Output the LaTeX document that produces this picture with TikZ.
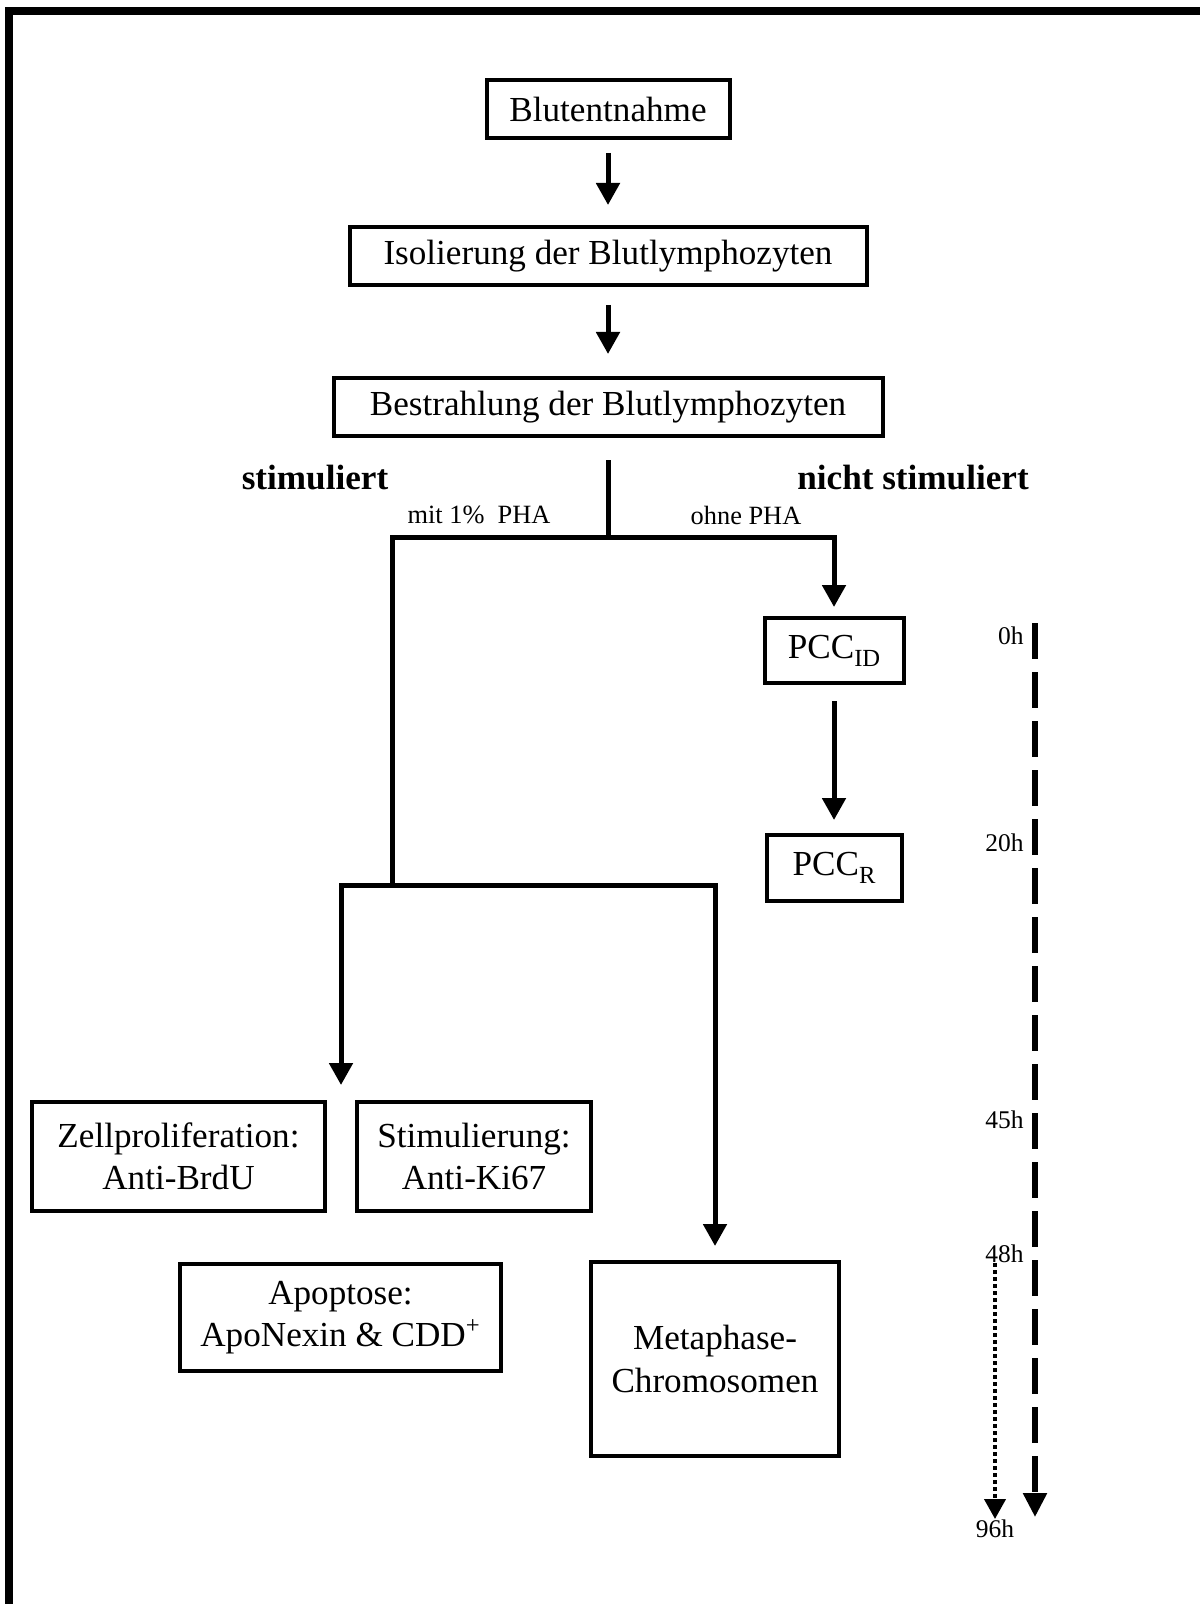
\documentclass[tikz,border=0pt]{standalone}
\usepackage{fontspec}
\setmainfont{Liberation Serif}
\usetikzlibrary{positioning,arrows.meta,calc}
\newcommand{\boxfont}{\fontsize{20}{24}\selectfont}
\newcommand{\condfont}{\fontsize{15}{18}\selectfont}
\newcommand{\hourfont}{\fontsize{14.5}{17}\selectfont}
\newcommand{\lowsub}[1]{\raisebox{-4.5pt}{\fontsize{14}{14}\selectfont #1}}
\tikzset{
  stepbox/.style={draw, line width=0.08cm, font=\boxfont, align=center, inner sep=0pt},
  conn/.style={line width=0.1cm},
  arr/.style={conn, -{Triangle[length=0.44cm,width=0.46cm]}},
  branch/.style={font=\boxfont\bfseries},
  cond/.style={font=\condfont},
  hour/.style={font=\hourfont, anchor=east, inner sep=0pt},
  timeline/.style={line width=0.11cm, dash pattern=on 0.71cm off 0.27cm,
                   -{Triangle[length=0.48cm,width=0.46cm]}},
  window/.style={line width=0.08cm, dash pattern=on 0.08cm off 0.06cm,
                 -{Triangle[length=0.4cm,width=0.42cm]}},
}

\begin{document}
\begin{tikzpicture}
\useasboundingbox (0,0) rectangle (24,-32.08);
% frame (top and left only)
\draw[line width=0.16cm] (24.2,-0.22) -- (0.18,-0.22) -- (0.18,-32.3);

% main chain
\node[stepbox, minimum width=4.86cm, minimum height=1.16cm] (blut) at (12.16,-2.18) {Blutentnahme};
\node[stepbox, minimum width=10.34cm, minimum height=1.16cm, below=1.7cm of blut] (iso) {Isolierung der Blutlymphozyten};
\node[stepbox, minimum width=10.98cm, minimum height=1.16cm, below=1.78cm of iso] (bestr) {Bestrahlung der Blutlymphozyten};
\draw[arr, shorten <=0.26cm, shorten >=0.4cm] (blut) -- (iso);
\draw[arr, shorten <=0.36cm, shorten >=0.44cm] (iso) -- (bestr);

% split
\coordinate (split) at (12.16,-10.74);
\coordinate (split2) at (7.84,-17.70);
\node[branch] (stim-lbl) at (6.30,-9.56) {stimuliert};
\node[branch] (nstim-lbl) at (18.26,-9.56) {nicht stimuliert};
\node[cond] (pha) at (9.58,-10.30) {mit 1\%\ \ PHA};
\node[cond] (nopha) at (14.92,-10.30) {ohne PHA};

% not stimulated
\node[stepbox, minimum width=2.78cm, minimum height=1.3cm] (pccid) at (16.68,-13.01) {PCC\lowsub{ID}};
\node[stepbox, minimum width=2.7cm, minimum height=1.32cm, below=2.96cm of pccid] (pccr) {PCC\lowsub{R}};
\draw[conn, shorten <=0.44cm] (bestr) -- (split);
\draw[arr, shorten >=0.18cm] (split) -| (pccid);
\draw[arr, shorten <=0.32cm, shorten >=0.26cm] (pccid) -- (pccr);

% stimulated
\node[stepbox, minimum width=5.86cm, minimum height=2.18cm] (zell) at (3.57,-23.13) {Zellproliferation:\\Anti-BrdU};
\node[stepbox, minimum width=4.68cm, minimum height=2.18cm, right=0.56cm of zell] (stim) {Stimulierung:\\Anti-Ki67};
\node[stepbox, minimum width=6.42cm, minimum height=2.14cm] (apop) at (6.81,-26.35) {Apoptose:\\ApoNexin \& CDD\textsuperscript{+}};
\node[stepbox, minimum width=4.96cm, minimum height=3.88cm] (meta) at (14.3,-27.18) {Metaphase-\\Chromosomen};
\coordinate (gap) at ($(zell.north east)!0.5!(stim.north west)$);
\draw[conn] (split) -| (split2);
\draw[arr, shorten >=0.3cm] (split2) -| (gap);
\draw[arr, shorten >=0.28cm] (split2) -| (meta);

% time axis
\node[hour] (h0) at (20.48,-12.72) {0h};
\node[hour] (h20) at (20.48,-16.86) {20h};
\node[hour] (h45) at (20.48,-22.40) {45h};
\node[hour] (h48) at (20.48,-25.08) {48h};
\node[hour, anchor=north] (h96) at (19.9,-30.38) {96h};
\coordinate (tstart) at (20.70,-12.46);
\coordinate (tend) at (20.70,-30.34);
\draw[timeline] (tstart) -- (tend);
\draw[window] (h48.south -| h96) -- (h96.north);
\end{tikzpicture}
\end{document}
